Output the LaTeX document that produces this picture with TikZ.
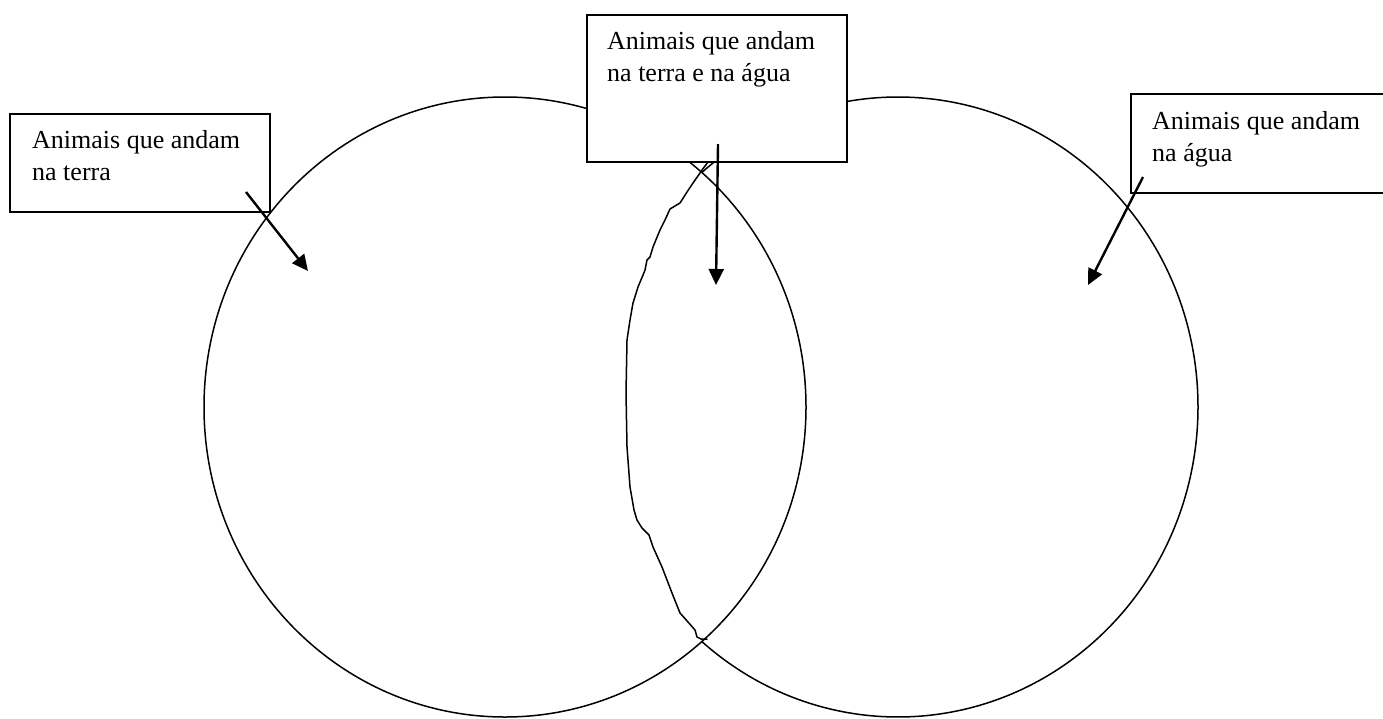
\documentclass[tikz,border=0pt]{standalone}
\usepackage{fontspec}
\setmainfont{Liberation Serif}
\usetikzlibrary{arrows.meta}

\tikzset{
  setline/.style={line width=1.5pt},
  labelbox/.style={draw, line width=1.8pt, fill=white, inner sep=0pt,
    minimum width=260pt},
  lbl/.style={inner sep=0pt, anchor=base west,
    font=\fontsize{26}{32}\selectfont},
  pointer/.style={line width=2.4pt,
    -{Triangle[length=16pt,width=15pt]}},
  sketch/.style={line width=1.5pt, line join=round, line cap=round}
}

\newcommand{\boxtext}[1]{\parbox[t]{236pt}{\raggedright #1}}

\begin{document}
\begin{tikzpicture}[x=1pt, y=-1pt]
  \useasboundingbox (0,0) rectangle (1383,718);

  % centres of the two sets
  \coordinate (c1) at (505,407);
  \coordinate (c2) at (898,407);

  % left set: full outline
  \draw[setline] (c1) ellipse [x radius=301pt, y radius=310pt];
  % right set: only the outer arc, between the two crossing points
  \draw[setline] ([shift={(130.8:300pt and 310pt)}]c2)
    arc [start angle=130.8, end angle=-130.8, x radius=300pt, y radius=310pt];

  % freehand outline closing the overlap
  \draw[sketch] (708,162) -- (702,170) -- (700,173) -- (693,183) -- (687,192)
    -- (680,203) -- (670,209) -- (665,220) -- (660,230) -- (653,247)
    -- (650,257) -- (647,260) -- (645,270) -- (643,275) -- (638,287)
    -- (633,303) -- (630,320) -- (627,340) -- (626,393) -- (627,447)
    -- (630,487) -- (634,510) -- (637,520) -- (642,528) -- (649,535)
    -- (653,547) -- (662,567) -- (672,593) -- (680,613) -- (688,622)
    -- (695,630) -- (697,637) -- (701,639) -- (707,639);

  % label boxes
  \node[labelbox, minimum height=98pt,  anchor=north west] (b1) at (9,113) {};
  \node[labelbox, minimum height=147pt, anchor=north west] (b2) at (586,14) {};
  \node[labelbox, minimum height=99pt,  anchor=north west] (b3) at (1130,93) {};

  \node[lbl] (t1) at ([shift={(23pt,-35pt)}]b1.north west)
    {\boxtext{Animais que andam\\na terra}};
  \node[lbl] (t2) at ([shift={(21pt,-35pt)}]b2.north west)
    {\boxtext{Animais que andam\\na terra e na água}};
  \node[lbl] (t3) at ([shift={(22pt,-36pt)}]b3.north west)
    {\boxtext{Animais que andam\\na água}};

  % arrows from the boxes into the regions
  \coordinate (a1s) at (246,192);
  \coordinate (a1e) at (308,271);
  \coordinate (a2s) at (718,144);
  \coordinate (a2e) at (716,285);
  \coordinate (a3s) at (1143,177);
  \coordinate (a3e) at (1088,285);

  \draw[pointer] (a1s) -- (a1e);
  \draw[pointer] (a2s) -- (a2e);
  \draw[pointer] (a3s) -- (a3e);
\end{tikzpicture}
\end{document}
